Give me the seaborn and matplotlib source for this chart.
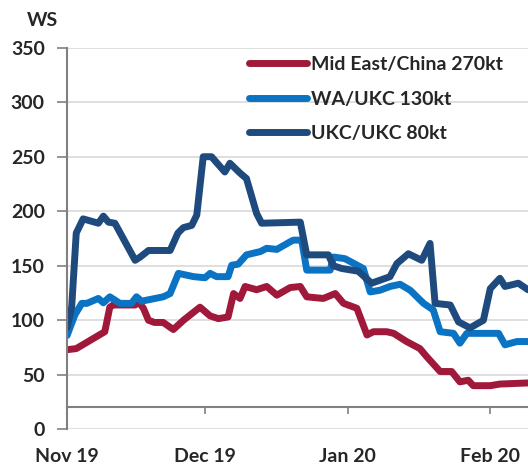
import pandas as pd
import matplotlib
matplotlib.use("Agg")
import matplotlib.pyplot as plt
import seaborn as sns

# days after 1 Nov 2019
start_date = "2019-11-01"

me_china_days = [0, 2, 4, 6.4, 8.2, 9.3, 10, 14.8, 15.5, 16.6, 17.7, 19, 20.9, 23.1, 25.3,
                 28.9, 31.1, 32.9, 35, 36.2, 37.6, 38.7, 41.2, 43.4, 45.6, 48.5, 50.7,
                 52.1, 55.7, 58.3, 60.1, 63, 65.2, 66.6, 69.5, 71, 73.8, 76.7, 78.2,
                 81.1, 83.6, 85.4, 87.2, 88.3, 92, 94.1, 100.2]
me_china_vals = [73, 74, 79, 85, 89.5, 112, 114, 114, 117, 111, 100, 98, 98, 91.5, 100,
                 112, 104, 101.5, 103, 124.5, 120, 131, 128, 131, 123, 130, 131,
                 121.5, 120, 124.5, 115.5, 111, 86.5, 89.5, 89.5, 88, 80.5, 74, 66.5,
                 53, 53, 43.5, 45, 40, 40, 41.5, 42.5]

wa_ukc_days = [0, 1.7, 3.2, 4.3, 6.8, 7.9, 9.3, 11.5, 14, 15.1, 16.2, 20.9, 22.4, 24.2,
               27.5, 30, 31.1, 32.5, 35, 35.8, 37.2, 39, 42, 43.4, 45.6, 48.5, 49.2,
               51, 52.1, 57.2, 57.9, 60.4, 64.4, 65.9, 68, 70.2, 72.4, 74.6, 77.5,
               79.6, 81.1, 84, 85.4, 86.9, 93.8, 95.2, 97.8, 100.2]
wa_ukc_vals = [86, 105, 115.5, 115.5, 120, 116, 121.5, 115.5, 115.5, 121.5, 117.5,
               121.5, 124.5, 143, 140, 139, 143, 140, 140, 150.5, 151.5, 160, 163,
               166, 165, 172, 173.5, 173.5, 146, 146, 158, 156.5, 147.5, 126, 127.5,
               131, 133, 127.5, 115.5, 109.5, 89.5, 88, 79, 88, 88, 77.5, 80.5, 80.5]

ukc_ukc_days = [0, 1, 2, 3.5, 6.8, 7.9, 9, 10.4, 14.8, 15.9, 17.7, 22.4, 24.1, 25.3,
                27.1, 28.2, 29.6, 31.4, 34.3, 35.4, 37.6, 39, 41.2, 42.3, 50.7, 52.1,
                56.8, 57.9, 59.7, 63.3, 66.2, 70.2, 71.7, 74.2, 77.1, 78.9, 80, 83.3,
                85.1, 87.6, 90.5, 92, 94.1, 95.2, 98.1, 100.2]
ukc_ukc_vals = [93, 112, 180, 193, 189, 195.5, 190, 189, 155, 158, 164, 164, 180, 185,
                187, 196.5, 250, 250, 236, 244, 235, 230, 198, 189, 190, 160,
                160, 150, 147.5, 145, 134, 140, 152, 161, 155, 170.5, 115.5, 114,
                98.5, 93, 100, 129, 138.5, 131, 134, 128]

series_names = ["Mid East/China 270kt", "WA/UKC 130kt", "UKC/UKC 80kt"]
series_colors = ["#A0193A", "#0A73C4", "#1F4A7E"]

tick_dates = ["2019-11-01", "2019-12-01", "2020-01-01", "2020-02-01"]
tick_labels = ["Nov 19", "Dec 19", "Jan 20", "Feb 20"]


def build_frame():
    parts = []
    for name, days, vals in zip(series_names,
                                [me_china_days, wa_ukc_days, ukc_ukc_days],
                                [me_china_vals, wa_ukc_vals, ukc_ukc_vals]):
        dates = pd.Timestamp(start_date) + pd.to_timedelta(days, unit="D")
        parts.append(pd.DataFrame({"date": dates, "ws": vals, "route": name}))
    return pd.concat(parts, ignore_index=True)


df = build_frame()

sns.set_style("white")
plt.rcParams["font.family"] = ["Lato", "DejaVu Sans"]
plt.rcParams["lines.solid_capstyle"] = "round"
plt.rcParams["lines.solid_joinstyle"] = "round"

fig = plt.figure(figsize=(5.28, 4.68), dpi=100)
ax = fig.add_axes([0.127, 0.0827, 0.873, 0.8154])

sns.lineplot(data=df, x="date", y="ws", hue="route", hue_order=series_names,
             palette=series_colors, linewidth=5, sort=False, ax=ax)

ax.set_ylim(0, 350)
ax.set_yticks(range(0, 351, 50))
ax.set_xlim(pd.Timestamp(start_date), pd.Timestamp(start_date) + pd.Timedelta(days=100.2))
ax.set_xticks(pd.to_datetime(tick_dates))
ax.set_xticklabels(tick_labels)
ax.set_xlabel("")
ax.set_ylabel("")

# gridlines
ax.grid(axis="y", color="#d9d9d9", linewidth=1.2)
ax.grid(axis="x", visible=False)
ax.set_axisbelow(True)

# axes styling: category axis crosses at 20
for side in ["top", "right"]:
    ax.spines[side].set_visible(False)
ax.spines["bottom"].set_position(("data", 20))
ax.spines["bottom"].set_color("#808080")
ax.spines["bottom"].set_linewidth(1.5)
ax.spines["left"].set_color("#808080")
ax.spines["left"].set_linewidth(1.5)
ax.tick_params(axis="x", bottom=True, direction="out", length=5, width=1.2,
               color="#808080", pad=24, labelsize=14)
ax.tick_params(axis="y", left=True, direction="out", length=7, width=1.2,
               color="#808080", pad=9, labelsize=14)
for lab in ax.get_xticklabels() + ax.get_yticklabels():
    lab.set_fontweight("bold")

handles, labels = ax.get_legend_handles_labels()
leg = ax.legend(handles, labels, loc="upper left", bbox_to_anchor=(0.395, 0.978),
                frameon=False, fontsize=14, handlelength=3.0, handletextpad=0.2,
                labelspacing=0.9, borderpad=0, borderaxespad=0)
for t in leg.get_texts():
    t.set_fontweight("bold")

fig.text(42 / 528, 1 - 21 / 468, "WS", ha="center", va="center",
         fontsize=14, fontweight="bold")

fig.savefig("out.png", dpi=100)
